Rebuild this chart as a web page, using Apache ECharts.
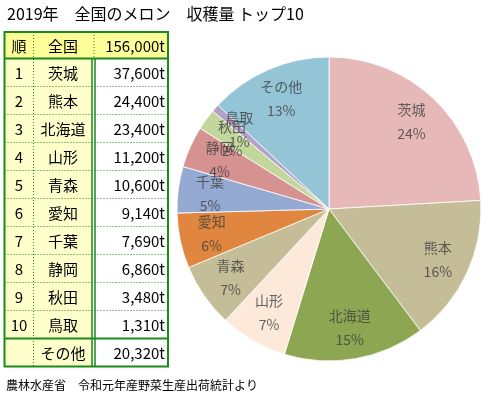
<!DOCTYPE html>
<html>
<head>
<meta charset="utf-8">
<script src="https://cdn.jsdelivr.net/npm/echarts@6/dist/echarts.min.js"></script>
<style>
  html, body { margin: 0; padding: 0; background: #fff; }
  #chart { width: 489px; height: 396px; }
</style>
</head>
<body>
<div id="chart"></div>
<script>
// データ
const titleText = '2019年　全国のメロン　収穫量 トップ10'
const sourceText = '農林水産省　令和元年産野菜生産出荷統計より'
const totalLabel = '全国'
const totalValue = 156000
const ranks = ['1', '2', '3', '4', '5', '6', '7', '8', '9', '10', '']
const prefectures = ['茨城', '熊本', '北海道', '山形', '青森', '愛知', '千葉', '静岡', '秋田', '鳥取', 'その他']
const harvest = [37600, 24400, 23400, 11200, 10600, 9140, 7690, 6860, 3480, 1310, 20320]
const sliceColors = ['#e6b9b8', '#c4bd97', '#8ca651', '#fde9d9', '#c4bd97', '#e0863e',
  '#95aad3', '#d69291', '#c3d69b', '#b3a2c7', '#93c5d7']

const chart = echarts.init(document.getElementById('chart'))

const font = '"Noto Sans CJK JP", sans-serif'
const green = '#1a8a1a'
const fmt = v => v.toLocaleString('en-US') + 't'
const sum = harvest.reduce((a, b) => a + b, 0)
const pieCenter = [329, 209]
const pieRadius = 152
const labelRadius = 120

// 表のレイアウト
const x0 = 4.5, x1 = 33.5, x2a = 92, x2b = 95, x3 = 168
const yTop = 32, yHead = 58.5, rowH = 28
const yBottom = yHead + rowH * ranks.length

const g = []
// 背景
g.push({ type: 'rect', shape: { x: x0, y: yTop, width: x3 - x0, height: yHead - yTop }, style: { fill: '#ffff99' } })
g.push({ type: 'rect', shape: { x: x0, y: yHead, width: x2a - x0, height: yBottom - yHead }, style: { fill: '#ffffcc' } })
// 横の点線
for (let i = 1; i < ranks.length - 1; i++) {
  const y = yHead + rowH * i
  g.push({ type: 'line', shape: { x1: x0, y1: y, x2: x3, y2: y }, style: { stroke: green, lineWidth: 1, lineDash: [1, 2] } })
}
// 縦の点線
g.push({ type: 'line', shape: { x1: x1, y1: yTop, x2: x1, y2: yBottom }, style: { stroke: green, lineWidth: 1, lineDash: [1, 2] } })
g.push({ type: 'line', shape: { x1: 94, y1: yTop, x2: 94, y2: yHead }, style: { stroke: green, lineWidth: 1, lineDash: [1, 2] } })
// 二重線
g.push({ type: 'line', shape: { x1: x2a, y1: yHead, x2: x2a, y2: yBottom }, style: { stroke: green, lineWidth: 1.5 } })
g.push({ type: 'line', shape: { x1: x2b, y1: yHead, x2: x2b, y2: yBottom }, style: { stroke: green, lineWidth: 1.5 } })
// 実線
g.push({ type: 'line', shape: { x1: x0, y1: yHead, x2: x3, y2: yHead }, style: { stroke: green, lineWidth: 2 } })
const yOther = yHead + rowH * (ranks.length - 1)
g.push({ type: 'line', shape: { x1: x0, y1: yOther, x2: x3, y2: yOther }, style: { stroke: green, lineWidth: 2 } })
g.push({ type: 'rect', shape: { x: x0, y: yTop, width: x3 - x0, height: yBottom - yTop }, style: { fill: null, stroke: green, lineWidth: 2 } })

// 文字
const cellText = (text, x, y, align) => ({
  type: 'text', x: x, y: y,
  style: { text: text, fill: '#000', font: '15px ' + font, textAlign: align, textVerticalAlign: 'middle' }
})
g.push(cellText('順', 19, (yTop + yHead) / 2 + 1, 'center'))
g.push(cellText(totalLabel, 63, (yTop + yHead) / 2 + 1, 'center'))
g.push(cellText(fmt(totalValue), 165, (yTop + yHead) / 2 + 1, 'right'))
ranks.forEach((r, i) => {
  const y = yHead + rowH * i + rowH / 2 + 1
  g.push(cellText(r, 19, y, 'center'))
  g.push(cellText(prefectures[i], 63, y, 'center'))
  g.push(cellText(fmt(harvest[i]), 165, y, 'right'))
})
// タイトル・出典
g.push({ type: 'text', x: 7, y: 14, style: { text: titleText, fill: '#000', font: '16px ' + font, textVerticalAlign: 'middle' } })
g.push({ type: 'text', x: 6, y: 385, style: { text: sourceText, fill: '#000', font: '12px ' + font, textVerticalAlign: 'middle' } })

const pieData = prefectures.map((name, i) => ({
  name: name,
  value: harvest[i],
  itemStyle: { color: sliceColors[i] }
}))

// ラベル位置：各扇形の中央角（極座標）
let acc = 0
const labelData = prefectures.map((name, i) => {
  const mid = acc + harvest[i] / 2
  acc += harvest[i]
  return { name: name, value: [labelRadius, mid], pct: Math.round(harvest[i] / sum * 100) }
})

const option = {
  animation: false,
  graphic: { elements: g },
  polar: { center: pieCenter, radius: pieRadius },
  angleAxis: { type: 'value', min: 0, max: sum, startAngle: 90, clockwise: true, show: false },
  radiusAxis: { type: 'value', min: 0, max: pieRadius, show: false },
  series: [
    {
      type: 'pie',
      center: pieCenter,
      radius: pieRadius,
      startAngle: 90,
      clockwise: true,
      silent: true,
      label: { show: false },
      labelLine: { show: false },
      itemStyle: { borderColor: 'rgba(255,255,255,0.8)', borderWidth: 1 },
      data: pieData
    },
    {
      type: 'scatter',
      coordinateSystem: 'polar',
      symbolSize: 0,
      silent: true,
      z: 5,
      label: {
        show: true,
        position: 'inside',
        formatter: p => '{n|' + p.name + '}\n{p|' + p.data.pct + '%}',
        rich: {
          n: { fontFamily: font, fontSize: 14, color: '#404040', lineHeight: 24 },
          p: { fontFamily: font, fontSize: 14, color: '#404040', lineHeight: 24 }
        }
      },
      data: labelData
    }
  ]
}

chart.setOption(option)
</script>
</body>
</html>
